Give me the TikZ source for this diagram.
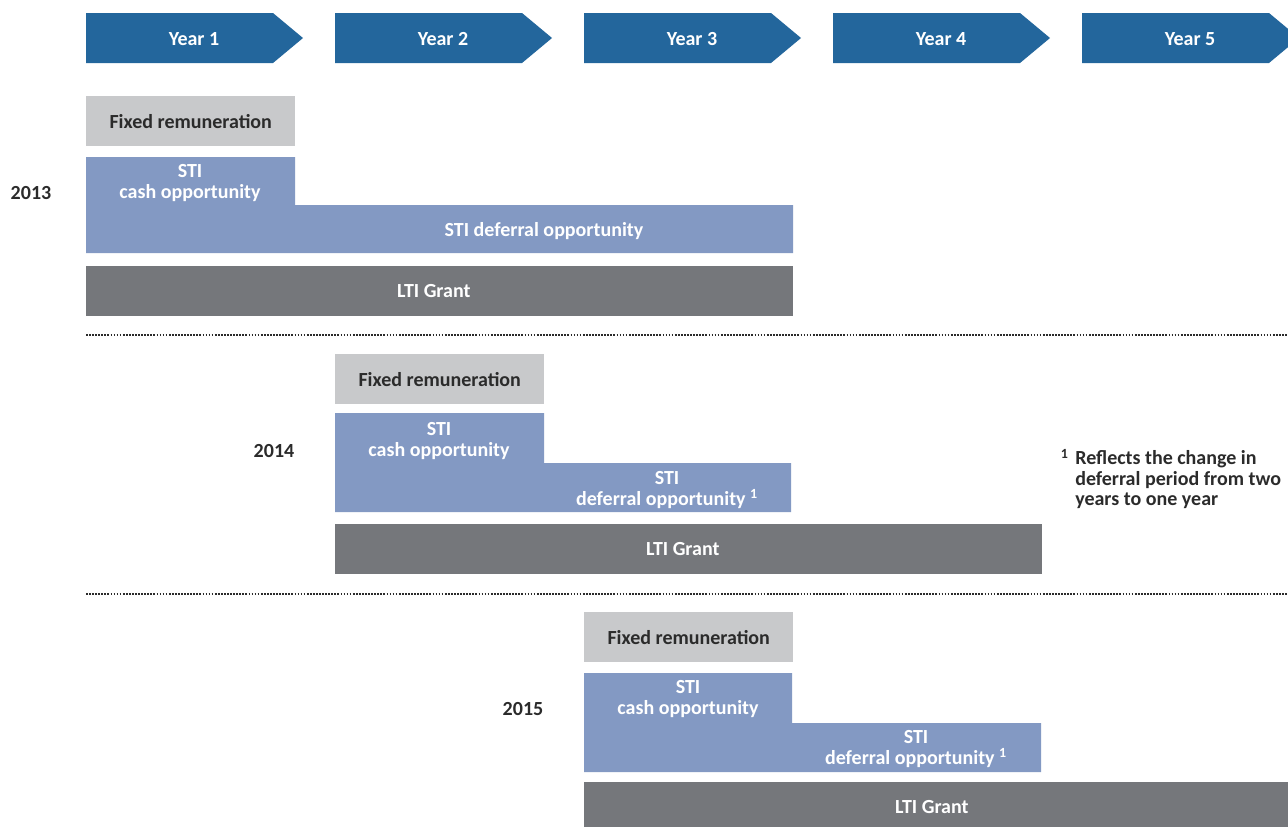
\documentclass[tikz,border=0pt]{standalone}
\usepackage{fontspec}
\setmainfont{Carlito}
\usepackage{tikz}

\definecolor{yearblue}{HTML}{23669C}
\definecolor{fixgray}{HTML}{C8C9CB}
\definecolor{stiblue}{HTML}{8399C3}
\definecolor{ltigray}{HTML}{75777B}
\definecolor{inkdark}{HTML}{2B2B2B}

\begin{document}
\begin{tikzpicture}[x=0.75pt, y=-0.75pt,
    font=\bfseries\fontsize{15}{15.6}\selectfont]
  \tikzset{box/.style={rectangle, inner sep=0pt, anchor=north west},
           lbl/.style={text=white, align=center, inner sep=0pt},
           sep/.style={inkdark, line width=1.5pt, dash pattern=on 1.3pt off 1pt}}

  \useasboundingbox (0,0) rectangle (1288,826);
  \clip (0,0) rectangle (1288,826);

  % year arrows
  \foreach \i in {1, 2, ..., 5} {
    \fill [yearblue] ({86+249*(\i-1)}, 13) -- ++(187,0) -- ++(30,25)
          -- ++(-30,25) -- ++(-187,0) -- cycle;
    \node [lbl] (year-\i) at ({194+249*(\i-1)}, 39) {Year \i};
  }

  % one block of rows per grant year
  \foreach \r/\yr/\yx in {0/2013/31, 1/2014/274, 2/2015/523} {
    \node [box, fill=fixgray, minimum width={209*0.75pt}, minimum height={50*0.75pt}]
          (fix-\r) at ({86+249*\r}, {96+258*\r}) {};
    \node [text=inkdark, inner sep=0pt] (fixlbl-\r) at (fix-\r.center) {Fixed remuneration};
    \node [box, fill=ltigray, minimum width={707*0.75pt}, minimum height={50*0.75pt}]
          (lti-\r) at ({86+249*\r}, {266+258*\r}) {};
    \node [lbl] (ltilbl-\r) at ([xshift=-4.5pt]lti-\r.center) {LTI Grant};
    \node [text=inkdark, inner sep=0pt] (yr-\r) at (\yx, {193+258*\r}) {\yr};
  }

  % STI steps
  \fill [stiblue] (86,157) -- (295,157) -- (295,205) -- (793,205)
        -- (793,253) -- (86,253) -- cycle;
  \node [lbl] (cash-0) at (190,183) {STI\\cash opportunity};
  \node [lbl] (def-0) at (544,231) {STI deferral opportunity};

  \fill [stiblue] (335,413) -- (544,413) -- (544,463) -- (791,463)
        -- (791,512) -- (335,512) -- cycle;
  \node [lbl] (cash-1) at (439,441) {STI\\cash opportunity};
  \node [lbl] (def-1) at (667,490) {STI\\deferral opportunity \textsuperscript{1}};

  \fill [stiblue] (584,673) -- (792,673) -- (792,723) -- (1041,723)
        -- (1041,772) -- (584,772) -- cycle;
  \node [lbl] (cash-2) at (688,699) {STI\\cash opportunity};
  \node [lbl] (def-2) at (916,749) {STI\\deferral opportunity \textsuperscript{1}};

  % separators
  \coordinate (sep-0a) at (86,335);
  \coordinate (sep-0b) at (1288,335);
  \coordinate (sep-1a) at (86,594);
  \coordinate (sep-1b) at (1288,594);
  \draw [sep] (sep-0a) -- (sep-0b);
  \draw [sep] (sep-1a) -- (sep-1b);

  % footnote
  \node [text=inkdark, anchor=north west, inner sep=0pt, align=left]
        (note) at (1075,450) {Reflects the change in\\deferral period from two\\years to one year};
  \node [text=inkdark, anchor=north east, inner sep=0pt] (notemark) at (1069,449)
        {\textsuperscript{1}};

\end{tikzpicture}
\end{document}
